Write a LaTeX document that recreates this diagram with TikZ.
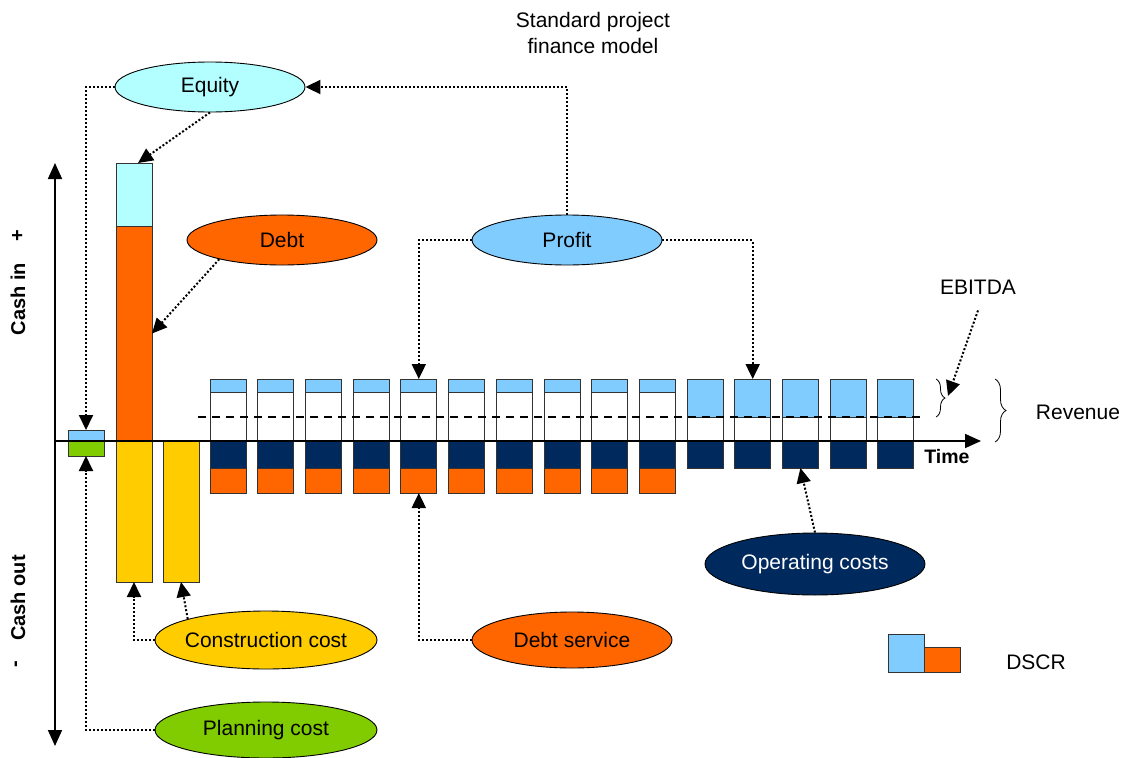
\documentclass[tikz,border=0pt]{standalone}
\usepackage{fontspec}
\setmainfont{Liberation Sans}
\usetikzlibrary{shapes.geometric,arrows.meta,decorations.pathreplacing}

\definecolor{eqcyan}{HTML}{B3FFFF}
\definecolor{debtorange}{HTML}{FF6600}
\definecolor{profitblue}{HTML}{80CCFF}
\definecolor{buildyellow}{HTML}{FFCC00}
\definecolor{opnavy}{HTML}{00295E}
\definecolor{plangreen}{HTML}{80CC00}
\definecolor{barline}{HTML}{333333}

\tikzset{
  bubble/.style={ellipse, draw=black, line width=0.9pt, inner sep=0pt,
    font=\fontsize{21}{25}\selectfont},
  seg/.style={draw=barline, line width=0.8pt, minimum width=36pt,
    inner sep=0pt, outer sep=0pt},
  conn/.style={line width=2pt, dash pattern=on 2pt off 2pt,
    -{Triangle[length=15pt,width=14pt]}},
  axis/.style={line width=1.7pt, -{Triangle[length=16pt,width=14pt]}},
  lbl/.style={font=\fontsize{21}{26}\selectfont, inner sep=0pt},
  axlbl/.style={font=\bfseries\fontsize{20}{24}\selectfont, inner sep=0pt,
    rotate=90},
  bracestyle/.style={line width=0.8pt, decorate},
}

% one coloured block of a bar: name, fill, x centre, top, bottom
\newcommand\segment[5]{%
  \node[seg, fill=#2, minimum height={(#5-#4)*1pt}] (#1) at (#3,{(#4+#5)/2}) {};}

\begin{document}
\begin{tikzpicture}[x=1pt,y=-1pt]
\useasboundingbox (0,0) rectangle (1133,758);

% planning phase bar
\segment{plantop}{profitblue}{86}{430}{441}
\segment{planbot}{plangreen}{86}{441}{456}

% construction phase: financing above the axis, costs below
\segment{maintop}{eqcyan}{134}{163}{226}
\segment{mainorange}{debtorange}{134}{226}{441}
\segment{yellow1}{buildyellow}{134}{441}{582}
\segment{yellow2}{buildyellow}{181}{441}{582}

% operating years while debt is being repaid
\foreach \i in {0,...,9}{
  \pgfmathsetmacro\cx{228+47.7*\i}
  \segment{top\i}{profitblue}{\cx}{379}{392}
  \segment{white\i}{white}{\cx}{392}{441}
  \segment{navy\i}{opnavy}{\cx}{441}{468}
  \segment{orange\i}{debtorange}{\cx}{468}{493}
}
% operating years after repayment
\foreach \i in {10,...,14}{
  \pgfmathsetmacro\cx{228+47.7*\i}
  \segment{top\i}{profitblue}{\cx}{379}{417}
  \segment{white\i}{white}{\cx}{417}{441}
  \segment{navy\i}{opnavy}{\cx}{441}{468}
}

% revenue level
\coordinate (dashA) at (198,417);
\coordinate (dashB) at (922,417);
\draw[line width=1.6pt, dash pattern=on 8pt off 6pt] (dashA) -- (dashB);

% axes
\coordinate (origin) at (55,441);
\coordinate (ytop) at (55,163);
\coordinate (ybot) at (55,746);
\coordinate (xend) at (981,441);
\draw[axis] (origin) -- (ytop);
\draw[axis] (origin) -- (ybot);
\draw[axis] (origin) -- (xend);

\node[font=\bfseries\fontsize{19.5}{23}\selectfont, inner sep=0pt] (time) at (947,457) {Time};
\node[axlbl] (cashin) at (18,299) {Cash in};
\node[axlbl] (plus) at (18,236) {+};
\node[axlbl] (cashout) at (18,598) {Cash out};
\node[axlbl] (minus) at (18,664) {-};

% braces
\coordinate (ebA) at (936,379);
\coordinate (ebB) at (936,417);
\coordinate (rvA) at (995,379);
\coordinate (rvB) at (995,442);
\draw[bracestyle, decoration={brace, amplitude=9pt}] (ebA) -- (ebB);
\draw[bracestyle, decoration={brace, amplitude=11pt}] (rvA) -- (rvB);
\coordinate (ebitdatip) at (948,396);

% texts
\node[lbl, align=center] (model) at (593,33) {Standard project\\finance model};
\node[lbl] (ebitda) at (978,287) {EBITDA};
\node[lbl] (revenue) at (1078,412) {Revenue};
\node[lbl] (dscr) at (1036,662) {DSCR};

% DSCR key
\node[seg, fill=profitblue, minimum height=38pt] (dscrA) at (906,653) {};
\node[seg, fill=debtorange, minimum height=25pt] (dscrB) at (942,659.5) {};

% bubbles
\node[bubble, fill=eqcyan, minimum width=190pt, minimum height=50pt] (equity) at (210,87) {Equity};
\node[bubble, fill=debtorange, minimum width=190pt, minimum height=50pt] (debt) at (282,240) {Debt};
\node[bubble, fill=profitblue, minimum width=190pt, minimum height=50pt] (profit) at (567,240) {Profit};
\node[bubble, fill=buildyellow, minimum width=222pt, minimum height=58pt] (construction) at (266,640) {\makebox[0pt]{Construction cost}};
\node[bubble, fill=debtorange, minimum width=200pt, minimum height=56pt] (debtservice) at (572,640) {Debt service};
\node[bubble, fill=opnavy, text=white, minimum width=220pt, minimum height=62pt] (opcost) at (815,564) {Operating costs};
\node[bubble, fill=plangreen, minimum width=222pt, minimum height=56pt] (planning) at (266,730) {Planning cost};

% flows
\draw[conn] (equity.west) -| (plantop.north);
\draw[conn] (equity.south) -- ([xshift=4pt]maintop.north);
\draw[conn] (debt.197) -- (mainorange.east);
\draw[conn] (profit.north) |- (equity.east);
\draw[conn] (profit.west) -| (top4.north);
\draw[conn] (profit.east) -| (top11.north);
\draw[conn] (debtservice.west) -| (orange4.south);
\draw[conn] (construction.west) -| (yellow1.south);
\draw[conn] (construction.165) -- (yellow2.south);
\draw[conn] (planning.west) -| (planbot.south);
\draw[conn] (opcost.north) -- (navy12.south);
\draw[conn] ([yshift=-16pt]ebitda.south) -- (ebitdatip);
\end{tikzpicture}
\end{document}
